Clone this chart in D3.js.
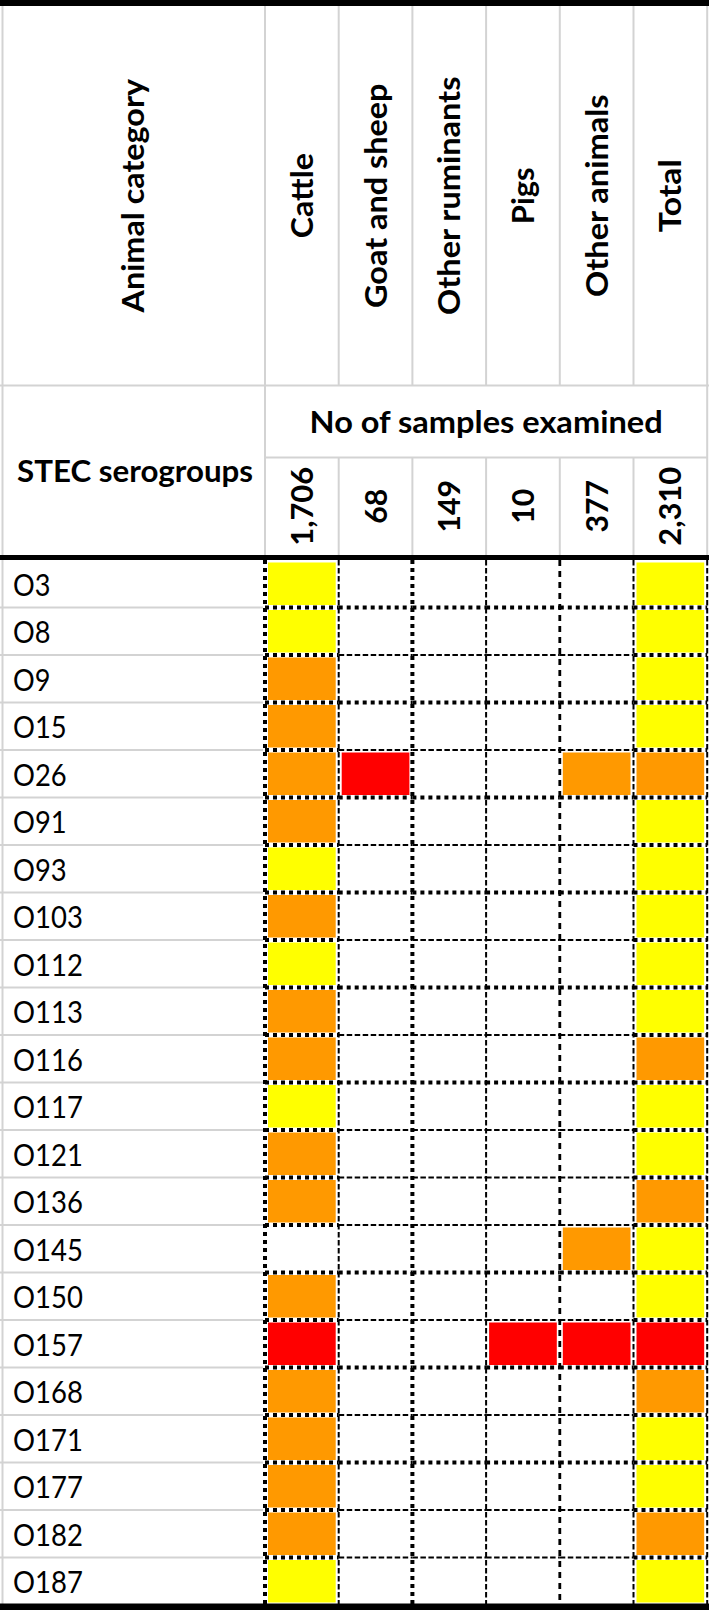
<!DOCTYPE html>
<html>
<head>
<meta charset="utf-8">
<script src="https://cdn.jsdelivr.net/npm/d3@7"></script>
<style>
html,body{margin:0;padding:0;background:#fff;}
svg{display:block;}
text{font-family:Lato,"Open Sans",sans-serif;fill:#000;}
</style>
</head>
<body>
<div id="chart"></div>
<script>
// ---------------- data ----------------
const categories = ["Cattle", "Goat and sheep", "Other ruminants", "Pigs", "Other animals", "Total"];
const samplesExamined = [1706, 68, 149, 10, 377, 2310];
const serogroups = ["O3","O8","O9","O15","O26","O91","O93","O103","O112","O113","O116","O117","O121","O136","O145","O150","O157","O168","O171","O177","O182","O187"];
// level: 0 = none, 1 = yellow, 2 = orange, 3 = red
const cattle         = [1,1,2,2,2,2,1,2,1,2,2,1,2,2,0,2,3,2,2,2,2,1];
const goatSheep      = [0,0,0,0,3,0,0,0,0,0,0,0,0,0,0,0,0,0,0,0,0,0];
const otherRuminants = [0,0,0,0,0,0,0,0,0,0,0,0,0,0,0,0,0,0,0,0,0,0];
const pigs           = [0,0,0,0,0,0,0,0,0,0,0,0,0,0,0,0,3,0,0,0,0,0];
const otherAnimals   = [0,0,0,0,2,0,0,0,0,0,0,0,0,0,2,0,3,0,0,0,0,0];
const total          = [1,1,1,1,2,1,1,1,1,1,2,1,1,2,1,1,3,2,1,1,2,1];
const headerTitle = "Animal category";
const rowTitle = "STEC serogroups";
const samplesTitle = "No of samples examined";

// ---------------- style ----------------
const W = 709, H = 1610;
const levelColor = d3.scaleOrdinal().domain([1,2,3]).range(["#FFFF00","#FF9900","#FF0000"]);
const grid = "#d3d3d3";
// approximate Calibri advance widths (em) used to size text like the original
const calReg = {" ":.226,"O":.662,"0":.507,"1":.507,"2":.507,"3":.507,"4":.507,"5":.507,"6":.507,"7":.507,"8":.507,"9":.507,",":.25};
const calBold = {" ":.226,",":.258,"0":.507,"1":.507,"2":.507,"3":.507,"4":.507,"5":.507,"6":.507,"7":.507,"8":.507,"9":.507,
 "A":.606,"C":.529,"E":.488,"G":.630,"N":.659,"O":.676,"P":.532,"S":.473,"T":.495,
 "a":.494,"c":.418,"d":.537,"e":.503,"f":.316,"g":.471,"h":.537,"i":.246,"l":.246,"m":.813,"n":.537,"o":.538,"p":.537,"r":.355,"s":.399,"t":.347,"u":.537,"x":.480,"y":.472};
function calWidth(s, bold, size){
  const t = bold ? calBold : calReg;
  let w = 0; for (const ch of s) w += (t[ch] !== undefined ? t[ch] : .5);
  return w * size;
}
const boldCal = 34.5, regCal = 32;           // Calibri-equivalent sizes
const boldLato = boldCal * 0.644 / 0.7165;    // Lato size with the same cap height
const regLato = regCal * 0.68 / 0.7165;

const svg = d3.select("#chart").append("svg").attr("width", W).attr("height", H);

// layout
const labelRight = 265;
const x = d3.scaleBand().domain(categories).range([labelRight, 707.2]);
const y = d3.scaleBand().domain(serogroups).range([560, 1605]);
const headTop = 6, headBottom = 385.5, sampRowBottom = 457.5, dataTop = 560;

// ---------------- grey grid ----------------
const g0 = svg.append("g").attr("stroke", grid).attr("stroke-width", 2);
g0.append("line").attr("x1", 2.5).attr("x2", 2.5).attr("y1", headTop).attr("y2", 1605);
const bounds = categories.map(c => x(c)).concat([x.range()[1]]);
bounds.forEach((bx, i) => {
  g0.append("line").attr("x1", bx).attr("x2", bx).attr("y1", headTop).attr("y2", (i === 0 || i === bounds.length - 1) ? dataTop : headBottom);
  if (i > 0 && i < bounds.length - 1)
    g0.append("line").attr("x1", bx).attr("x2", bx).attr("y1", sampRowBottom).attr("y2", dataTop);
});
g0.append("line").attr("x1", 0).attr("x2", W).attr("y1", headBottom).attr("y2", headBottom);
g0.append("line").attr("x1", labelRight).attr("x2", x.range()[1]).attr("y1", sampRowBottom).attr("y2", sampRowBottom);
serogroups.slice(1).forEach(s => {
  g0.append("line").attr("x1", 0).attr("x2", labelRight - 2).attr("y1", y(s)).attr("y2", y(s));
});

// ---------------- cells ----------------
const series = [cattle, goatSheep, otherRuminants, pigs, otherAnimals, total];
const cells = [];
series.forEach((arr, ci) => arr.forEach((v, ri) => { if (v > 0) cells.push({c: categories[ci], r: serogroups[ri], v}); }));
svg.append("g").selectAll("rect").data(cells).join("rect")
  .attr("x", d => x(d.c) + 3)
  .attr("y", d => y(d.r) + 2.5)
  .attr("width", x.bandwidth() - 6)
  .attr("height", y.bandwidth() - 5)
  .attr("fill", d => levelColor(d.v));

// ---------------- dotted borders ----------------
const lineStyles = {
  dots:   {w: 4,   dash: "4,4"},
  thin:   {w: 2,   dash: "5.5,2.5"},
  medium: {w: 2.8, dash: "6,5"}
};
const vStyle = ["dots","thin","dots","thin","medium","thin","thin"];
const hStyleMiddle = ["dots","thin","dots","thin","dots","thin","dots","thin","dots","thin","dots","thin","thin","thin","dots","thin","dots","thin","dots","thin","thin"];
const gb = svg.append("g").attr("stroke", "#000").attr("fill", "none");
serogroups.slice(1).forEach((s, i) => {
  const yy = y(s);
  categories.forEach((c, ci) => {
    const st = lineStyles[(ci === 0 || ci === categories.length - 1) ? "dots" : hStyleMiddle[i]];
    gb.append("line").attr("x1", x(c)).attr("x2", x(c) + x.bandwidth())
      .attr("y1", yy).attr("y2", yy)
      .attr("stroke-width", st.w).attr("stroke-dasharray", st.dash);
  });
});
bounds.forEach((bx, i) => {
  const st = lineStyles[vStyle[i]];
  gb.append("line").attr("x1", bx).attr("x2", bx).attr("y1", dataTop).attr("y2", 1605)
    .attr("stroke-width", st.w).attr("stroke-dasharray", st.dash);
});

// ---------------- black rules ----------------
svg.append("rect").attr("x", 0).attr("y", 0).attr("width", W).attr("height", headTop).attr("fill", "#000");
svg.append("rect").attr("x", 0).attr("y", 555).attr("width", W).attr("height", 5).attr("fill", "#000");
svg.append("rect").attr("x", 0).attr("y", 1603.5).attr("width", W).attr("height", H - 1603.5).attr("fill", "#000");

// ---------------- text ----------------
function addText(parent, str, bold, cx, cy, rotate, anchor) {
  const calSize = bold ? boldCal : regCal;
  const size = bold ? boldLato : regLato;
  const g = parent.append("g").attr("transform", `translate(${cx},${cy})` + (rotate ? " rotate(-90)" : ""));
  g.append("text")
    .attr("x", 0).attr("y", size * 0.358)
    .attr("text-anchor", anchor || "middle")
    .attr("font-size", size)
    .attr("font-weight", bold ? 700 : 400)
    .attr("textLength", calWidth(str, bold, calSize))
    .attr("lengthAdjust", "spacingAndGlyphs")
    .text(str);
}
const gt = svg.append("g");
const headMid = (headTop + headBottom) / 2;
addText(gt, headerTitle, true, labelRight / 2, headMid, true);
categories.forEach(c => addText(gt, c, true, x(c) + x.bandwidth() / 2, headMid, true));
addText(gt, samplesTitle, true, (labelRight + x.range()[1]) / 2, (headBottom + sampRowBottom) / 2, false);
addText(gt, rowTitle, true, 17, (headBottom + dataTop) / 2 - 2, false, "start");
const fmt = d3.format(",");
categories.forEach((c, i) => addText(gt, fmt(samplesExamined[i]), true, x(c) + x.bandwidth() / 2, (sampRowBottom + 555) / 2, true));
serogroups.forEach(s => addText(gt, s, false, 13, y(s) + y.bandwidth() / 2 + 1, false, "start"));
</script>
</body>
</html>
